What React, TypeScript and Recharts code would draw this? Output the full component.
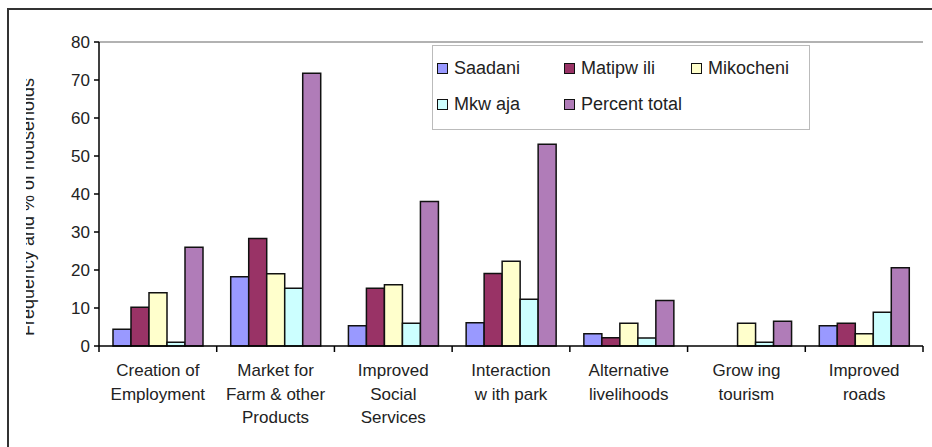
import React from 'react';
import { BarChart, Bar, XAxis, YAxis, ReferenceLine } from 'recharts';

const CATEGORIES = [
  'Creation of|Employment',
  'Market for|Farm & other|Products',
  'Improved|Social|Services',
  'Interaction|w ith park',
  'Alternative|livelihoods',
  'Grow ing|tourism',
  'Improved|roads',
];
const SAADANI = [4.4, 18.2, 5.3, 6.1, 3.2, 0, 5.3];
const MATIPWILI = [10.2, 28.3, 15.2, 19.1, 2.2, 0, 6.0];
const MIKOCHENI = [14.0, 19.0, 16.1, 22.3, 6.0, 6.0, 3.2];
const MKWAJA = [1.0, 15.2, 6.0, 12.3, 2.1, 1.0, 8.9];
const PERCENT_TOTAL = [26.0, 71.8, 38.0, 53.1, 12.0, 6.5, 20.6];
const Y_TICKS = [0, 10, 20, 30, 40, 50, 60, 70, 80];

const SERIES = [
  { key: 'saadani', name: 'Saadani', color: '#9999FF', values: SAADANI },
  { key: 'matipwili', name: 'Matipw ili', color: '#993366', values: MATIPWILI },
  { key: 'mikocheni', name: 'Mikocheni', color: '#FFFFCC', values: MIKOCHENI },
  { key: 'mkwaja', name: 'Mkw aja', color: '#CCFFFF', values: MKWAJA },
  { key: 'percent', name: 'Percent total', color: '#B07CB8', values: PERCENT_TOTAL },
];

const data = CATEGORIES.map((c, i) => {
  const row: Record<string, any> = { category: c };
  SERIES.forEach(s => { row[s.key] = s.values[i]; });
  return row;
});

const FONT = '"Liberation Sans", Arial, sans-serif';
const TEXT = '#222';

const CategoryTick = (props: any) => {
  const { x, y, payload, index } = props;
  const half = payload.offset ?? 58.9;
  const lines = String(payload.value).split('|');
  return (
    <g>
      <line x1={x - half} y1={y} x2={x - half} y2={y + 6} stroke="#000" strokeWidth={1.5} />
      {index === CATEGORIES.length - 1 && (
        <line x1={x + half} y1={y} x2={x + half} y2={y + 6} stroke="#000" strokeWidth={1.5} />
      )}
      <text x={x} y={y} textAnchor="middle" fill={TEXT} fontSize={17} fontFamily={FONT}>
        {lines.map((l, i) => (
          <tspan key={i} x={x} dy={i === 0 ? 30 : 23.5}>{l}</tspan>
        ))}
      </text>
    </g>
  );
};

export default function App() {
  return (
    <div style={{ position: 'absolute', left: 0, top: 0, width: 932, height: 447, overflow: 'hidden', background: '#fff' }}>
      {/* outer frame */}
      <div style={{ position: 'absolute', left: 7, top: 8, width: 940, height: 460, border: '2px solid #333', boxSizing: 'border-box' }} />

      {/* y-axis title, clipped like the original */}
      <svg width={60} height={447} style={{ position: 'absolute', left: 0, top: 0 }}>
        <defs>
          <clipPath id="ylab">
            <rect x={26} y={0} width={20} height={447} />
          </clipPath>
        </defs>
        <g clipPath="url(#ylab)">
          <text
            x={34}
            y={207}
            transform="rotate(-90, 34, 207)"
            textAnchor="middle"
            fontSize={18}
            fontFamily={FONT}
            fill={TEXT}
          >
            Frequency and % of households
          </text>
        </g>
      </svg>

      <div style={{ position: 'absolute', left: 0, top: 0 }}>
        <BarChart
          width={932}
          height={447}
          data={data}
          margin={{ top: 42, right: 9, left: 39, bottom: 21 }}
          barCategoryGap={14}
          barGap={0}
        >
          <XAxis
            dataKey="category"
            interval={0}
            height={80}
            tickLine={false}
            tickSize={0}
            tickMargin={0}
            axisLine={{ stroke: '#000', strokeWidth: 1.5 }}
            tick={<CategoryTick />}
          />
          <YAxis
            yAxisId="left"
            width={60}
            domain={[0, 80]}
            ticks={Y_TICKS}
            interval={0}
            tickSize={5}
            tickMargin={4}
            axisLine={{ stroke: '#000', strokeWidth: 1.5 }}
            tickLine={{ stroke: '#000', strokeWidth: 1.5 }}
            tick={{ fill: TEXT, fontSize: 17, fontFamily: FONT }}
          />
          <YAxis
            yAxisId="right"
            orientation="right"
            width={0}
            domain={[0, 80]}
            tick={false}
            tickLine={false}
            axisLine={{ stroke: '#999', strokeWidth: 1.5 }}
          />
          <ReferenceLine yAxisId="left" y={80} stroke="#999" strokeWidth={1.5} />
          {SERIES.map(s => (
            <Bar
              key={s.key}
              yAxisId="left"
              dataKey={s.key}
              name={s.name}
              fill={s.color}
              stroke="#111"
              strokeWidth={1.5}
              isAnimationActive={false}
            />
          ))}
        </BarChart>
      </div>

      {/* legend */}
      <div
        style={{
          position: 'absolute',
          left: 432,
          top: 45,
          width: 378,
          height: 85,
          border: '1px solid #bbb',
          boxSizing: 'border-box',
          background: '#fff',
          fontFamily: FONT,
          fontSize: 18,
          color: TEXT,
        }}
      >
        {SERIES.map((s, i) => {
          const col = i < 3 ? i : i - 3;
          const row = i < 3 ? 0 : 1;
          return (
            <div
              key={s.key}
              style={{
                position: 'absolute',
                left: 4 + col * 127,
                top: 12 + row * 36,
                display: 'flex',
                alignItems: 'center',
                whiteSpace: 'nowrap',
              }}
            >
              <span
                style={{
                  display: 'inline-block',
                  width: 9,
                  height: 9,
                  background: s.color,
                  border: '1.5px solid #111',
                  marginRight: 6,
                }}
              />
              <span>{s.name}</span>
            </div>
          );
        })}
      </div>
    </div>
  );
}
